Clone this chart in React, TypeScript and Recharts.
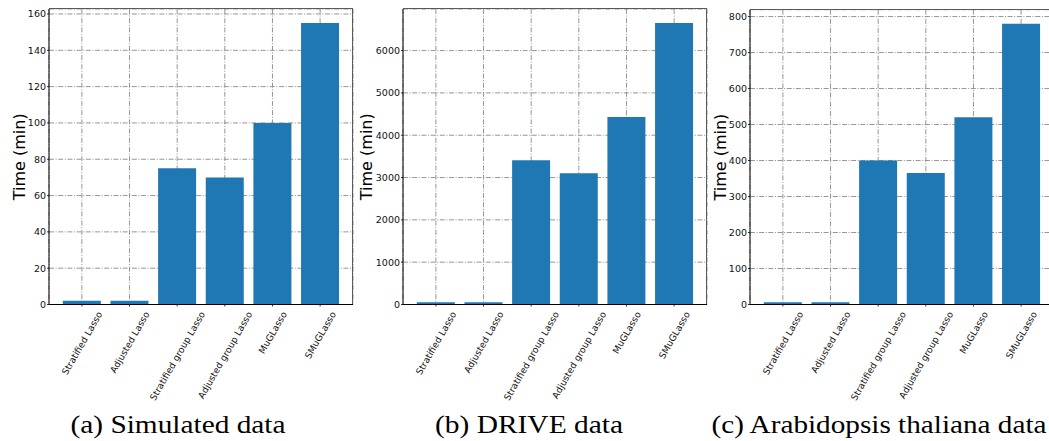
import React from 'react';
import { BarChart, Bar, XAxis, YAxis, CartesianGrid } from 'recharts';

const methods = [
  'Stratified Lasso',
  'Adjusted Lasso',
  'Stratified group Lasso',
  'Adjusted group Lasso',
  'MuGLasso',
  'SMuGLasso',
];
const simulatedTimes = [2, 2, 75, 70, 100, 155];
const driveTimes = [55, 55, 3410, 3100, 4430, 6650];
const arabidopsisTimes = [6, 6, 400, 365, 520, 780];

const simulatedTicks = [0, 20, 40, 60, 80, 100, 120, 140, 160];
const driveTicks = [0, 1000, 2000, 3000, 4000, 5000, 6000];
const arabidopsisTicks = [0, 100, 200, 300, 400, 500, 600, 700, 800];

const captions = ['(a) Simulated data', '(b) DRIVE data', '(c) Arabidopsis thaliana data'];
const yLabel = 'Time (min)';

const W = 1049;
const H = 441;
const AXIS_W = 49;
const PLOT_W = 304;
const PLOT_BOTTOM = 304.5;
const SANS = '"DejaVu Sans", sans-serif';

let measureCtx: CanvasRenderingContext2D | null = null;
function measureText(text: string, font: string): number {
  if (!measureCtx) {
    const c = document.createElement('canvas');
    measureCtx = c.getContext('2d');
  }
  if (!measureCtx) return text.length * 5;
  measureCtx.font = font;
  return measureCtx.measureText(text).width;
}

const XTick = (props: any) => {
  const { x, y, payload } = props;
  const fs = 9.2;
  const text = String(payload.value);
  const L = measureText(text, `${fs}px "DejaVu Sans"`);
  const h = fs * 0.95;
  const a = Math.PI / 3;
  const bh = L * Math.sin(a) + h * Math.cos(a);
  const cy = y + bh / 2;
  const cx = x;
  return (
    <text
      x={cx}
      y={cy}
      textAnchor="middle"
      dominantBaseline="central"
      fontSize={fs}
      fontFamily={SANS}
      fill="#111"
      transform={`rotate(-60, ${cx}, ${cy})`}
    >
      {text}
    </text>
  );
};

type PanelProps = {
  values: number[];
  ticks: number[];
  plotLeft: number;
  plotTop: number;
  labelOffset: number;
};

const Panel = ({ values, ticks, plotLeft, plotTop, labelOffset }: PanelProps) => {
  const data = methods.map((m, i) => ({ method: m, time: values[i] }));
  const maxV = Math.max(...values);
  const chartLeft = plotLeft - AXIS_W;
  const marginRight = 4;
  const pad = (0.69 - 0.5) * (PLOT_W / 6.38);
  return (
    <div style={{ position: 'absolute', left: chartLeft, top: 0 }}>
      <BarChart
        width={AXIS_W + PLOT_W + marginRight}
        height={H}
        data={data}
        margin={{ top: plotTop, right: marginRight, bottom: 0, left: 0 }}
        barCategoryGap="10%"
        style={{ overflow: 'visible' }}
      >
        <CartesianGrid stroke="#8a8a8a" strokeWidth={0.9} strokeDasharray="5 1.6 1 1.6" />
        <Bar dataKey="time" fill="#1f77b4" isAnimationActive={false} />
        <XAxis
          dataKey="method"
          type="category"
          height={H - PLOT_BOTTOM}
          padding={{ left: pad, right: pad }}
          interval={0}
          tickSize={2}
          tickMargin={3.5}
          tickLine={{ stroke: '#000', strokeWidth: 0.8 }}
          axisLine={{ stroke: '#000', strokeWidth: 1 }}
          tick={<XTick />}
        />
        <YAxis
          type="number"
          width={AXIS_W}
          domain={[0, maxV * 1.05]}
          ticks={ticks}
          interval={0}
          tickSize={2}
          tickMargin={1}
          tickLine={{ stroke: '#000', strokeWidth: 0.8 }}
          axisLine={{ stroke: '#000', strokeWidth: 1 }}
          tick={{ fontSize: 9.5, fontFamily: SANS, fill: '#111' }}
          label={{
            content: (p: any) => {
              const vb = p.viewBox || { x: 0, y: plotTop, width: AXIS_W, height: 295 };
              const lx = vb.x + labelOffset;
              const ly = vb.y + vb.height / 2;
              return (
                <text
                  x={lx}
                  y={ly}
                  textAnchor="middle"
                  dominantBaseline="central"
                  fontSize={16}
                  fontFamily={SANS}
                  fill="#000"
                  transform={`rotate(-90, ${lx}, ${ly})`}
                >
                  {yLabel}
                </text>
              );
            },
          }}
        />
      </BarChart>
      <div
        style={{
          position: 'absolute',
          left: AXIS_W,
          top: plotTop - 1,
          width: PLOT_W,
          height: PLOT_BOTTOM - plotTop + 0.5,
          borderTop: '1.6px solid #5a5a5a',
          borderRight: '1.6px solid #5a5a5a',
          boxSizing: 'border-box',
          pointerEvents: 'none',
        }}
      />
    </div>
  );
};

const captionCenters = [178, 529, 879];
const captionWidths = [215, 188, 335];

export default function App() {
  return (
    <div
      style={{
        position: 'absolute',
        left: 0,
        top: 0,
        width: W,
        height: H,
        overflow: 'hidden',
        background: '#fff',
      }}
    >
      <Panel values={simulatedTimes} ticks={simulatedTicks} plotLeft={49} plotTop={9} labelOffset={19.2} />
      <Panel values={driveTimes} ticks={driveTicks} plotLeft={402.7} plotTop={9} labelOffset={12.8} />
      <Panel values={arabidopsisTimes} ticks={arabidopsisTicks} plotLeft={750.3} plotTop={9.7} labelOffset={19.2} />
      <svg
        width={W}
        height={H}
        style={{ position: 'absolute', left: 0, top: 0, pointerEvents: 'none' }}
      >
        {captions.map((c, i) => (
          <text
            key={c}
            x={captionCenters[i]}
            y={433}
            textAnchor="middle"
            fontSize={26}
            fontFamily='"Liberation Serif", "DejaVu Serif", serif'
            fill="#000"
            textLength={captionWidths[i]}
            lengthAdjust="spacingAndGlyphs"
          >
            {c}
          </text>
        ))}
      </svg>
    </div>
  );
}
